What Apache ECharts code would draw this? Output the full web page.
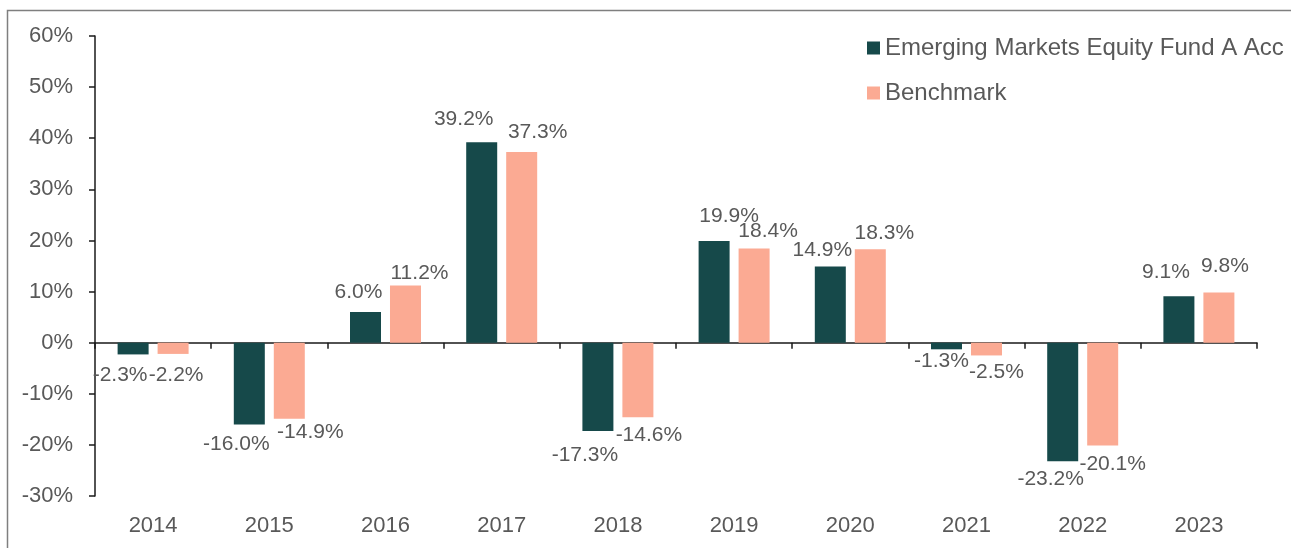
<!DOCTYPE html>
<html>
<head>
<meta charset="utf-8">
<script src="https://cdn.jsdelivr.net/npm/echarts@6/dist/echarts.min.js"></script>
<style>
  html, body { margin: 0; padding: 0; background: #fff; }
  #chart { width: 1291px; height: 548px; }
</style>
</head>
<body>
<div id="chart"></div>
<script>
// data
var years = ["2014", "2015", "2016", "2017", "2018", "2019", "2020", "2021", "2022", "2023"];
var fundReturns = [-2.3, -16.0, 6.0, 39.2, -17.3, 19.9, 14.9, -1.3, -23.2, 9.1];
var benchReturns = [-2.2, -14.9, 11.2, 37.3, -14.6, 18.4, 18.3, -2.5, -20.1, 9.8];
var yTicks = [-30, -20, -10, 0, 10, 20, 30, 40, 50, 60];

// label nudges (layout only, like the hand-placed labels in the original)
var fundLabelDx = [-13, -13, -7, -18, -13, 15, -8, -5, -12, -13];
var fundLabelDy = [5, 4, -4, -8, 9, -9, -1, -4, 2, -8];
var benchLabelDx = [3, 21, 14, 16, 11, 14, 14, 10, 10, 6];
var benchLabelDy = [6, -2, 3, -4, 2, -2, 0, 1, 3, -11];

var textColor = "#595959";
var fontFamily = "'Liberation Sans', Arial, sans-serif";

function buildPoints(values, dx, dy) {
  return values.map(function (v, i) {
    return {
      value: v,
      label: {
        position: v < 0 ? "bottom" : "top",
        offset: [dx[i], dy[i]],
      },
    };
  });
}

var chart = echarts.init(document.getElementById("chart"));

var option = {
  animation: false,
  textStyle: { fontFamily: fontFamily },
  graphic: [
    {
      // outer frame of the original picture (only top and left edges show)
      type: "rect",
      silent: true,
      shape: { x: 7.5, y: 10.5, width: 2000, height: 2000 },
      style: { fill: "none", stroke: "#7f7f7f", lineWidth: 1.5 },
    },
  ],
  grid: {
    left: 95,
    right: 34,
    top: 36,
    bottom: 52,
  },
  legend: {
    orient: "vertical",
    left: 862,
    top: 31,
    itemWidth: 13,
    itemHeight: 13,
    itemGap: 21,
    icon: "rect",
    textStyle: { color: textColor, fontSize: 24, fontFamily: fontFamily },
    data: ["Emerging Markets Equity Fund A Acc", "Benchmark"],
  },
  xAxis: [
    {
      type: "category",
      data: years,
      position: "bottom",
      axisLine: { show: false, onZero: false },
      axisTick: { show: false },
      axisLabel: {
        color: textColor,
        fontSize: 22,
        margin: 19,
        fontFamily: fontFamily,
      },
    },
    {
      // zero line with the category ticks
      type: "category",
      data: years,
      axisLine: { show: true, onZero: true, lineStyle: { color: "#1a1a1a", width: 1.5 } },
      axisTick: { show: true, inside: true, length: 6, lineStyle: { color: "#1a1a1a", width: 1.5 } },
      axisLabel: { show: false },
    },
  ],
  yAxis: {
    type: "value",
    min: yTicks[0],
    max: yTicks[yTicks.length - 1],
    interval: 10,
    axisLine: { show: true, lineStyle: { color: "#1a1a1a", width: 1.5 } },
    axisTick: { show: true, length: 6, lineStyle: { color: "#1a1a1a", width: 1.5 } },
    splitLine: { show: false },
    axisLabel: {
      color: textColor,
      fontSize: 22,
      margin: 22,
      fontFamily: fontFamily,
      formatter: function (v) {
        return v + "%";
      },
    },
  },
  series: [
    {
      name: "Emerging Markets Equity Fund A Acc",
      type: "bar",
      xAxisIndex: 0,
      barWidth: 31,
      barGap: "29%",
      itemStyle: { color: "#16494a" },
      label: {
        show: true,
        color: textColor,
        fontSize: 21,
        fontFamily: fontFamily,
        distance: 5,
        formatter: function (p) {
          return p.value.toFixed(1) + "%";
        },
      },
      data: buildPoints(fundReturns, fundLabelDx, fundLabelDy),
    },
    {
      name: "Benchmark",
      type: "bar",
      xAxisIndex: 0,
      barWidth: 31,
      barGap: "29%",
      itemStyle: { color: "#fbaa93" },
      label: {
        show: true,
        color: textColor,
        fontSize: 21,
        fontFamily: fontFamily,
        distance: 5,
        formatter: function (p) {
          return p.value.toFixed(1) + "%";
        },
      },
      data: buildPoints(benchReturns, benchLabelDx, benchLabelDy),
    },
  ],
};

chart.setOption(option);
</script>
</body>
</html>
